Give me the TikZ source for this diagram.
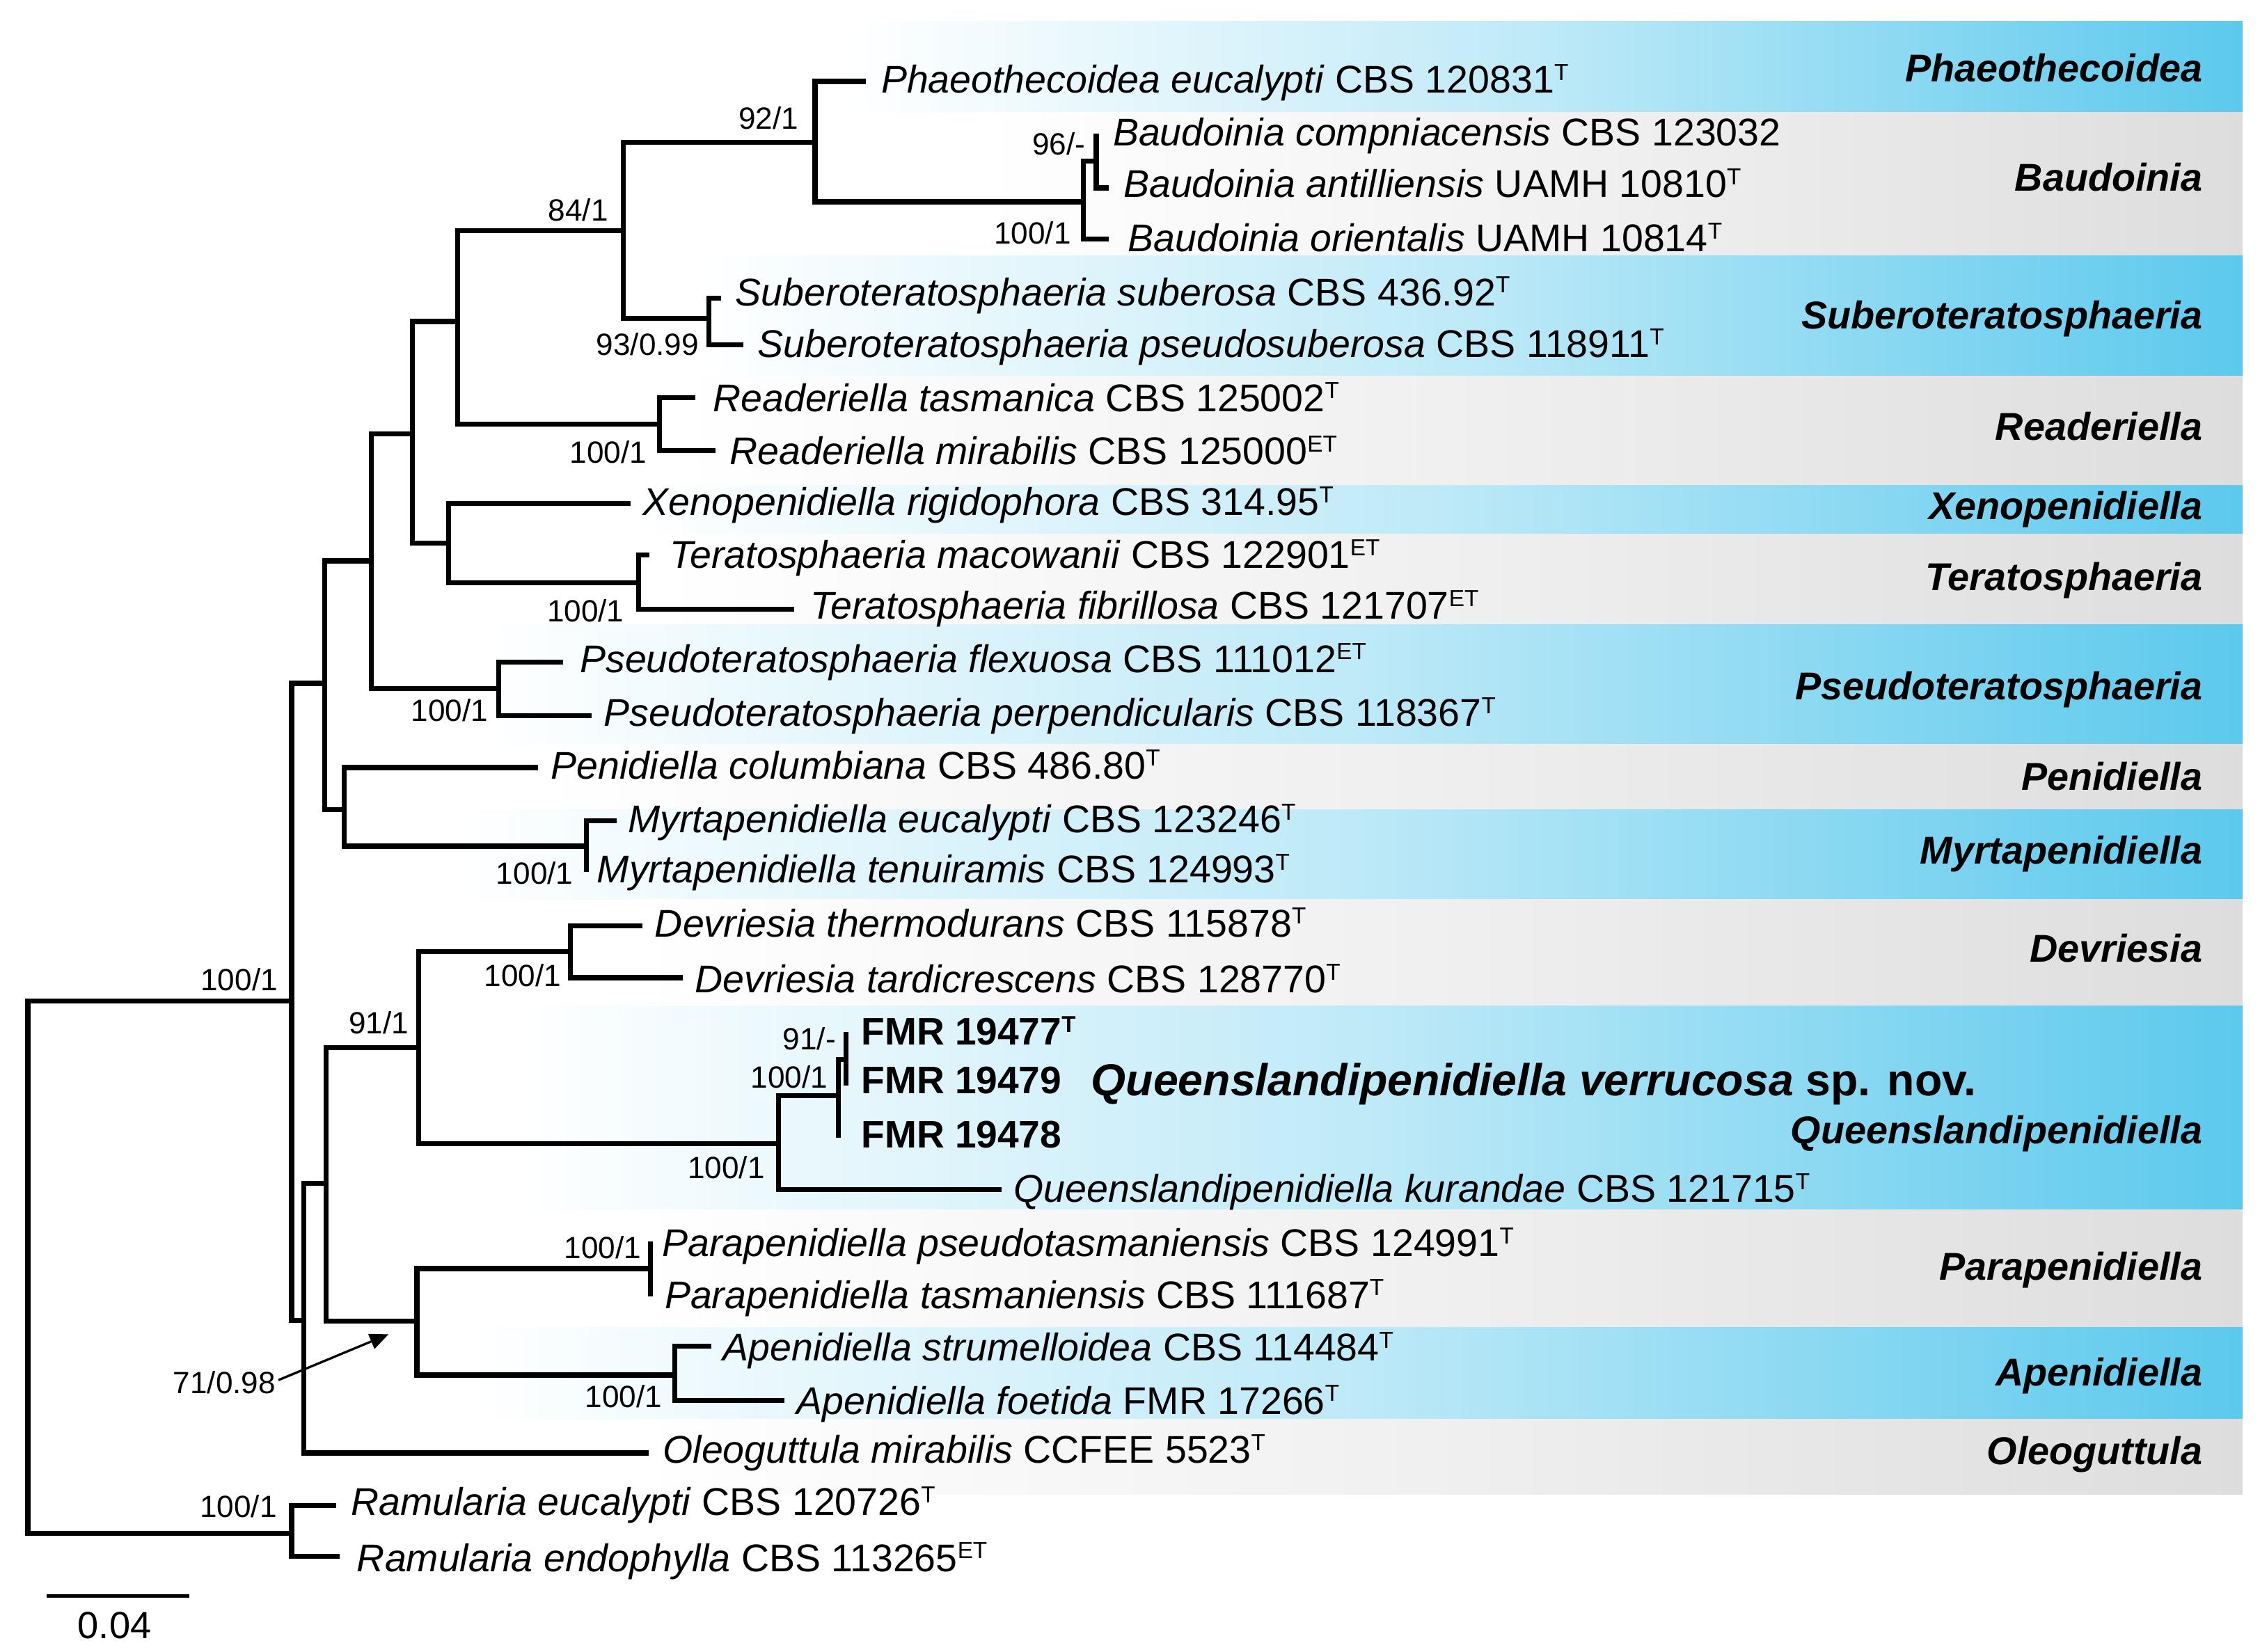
\documentclass[tikz,border=0pt]{standalone}
\usepackage{fontspec}
\setmainfont{Liberation Sans}
\usepackage{graphicx}
\usetikzlibrary{arrows.meta}
\definecolor{bandblue}{RGB}{92,201,237}
\definecolor{bandgray}{RGB}{221,221,221}
\newcommand{\sps}[1]{\raisebox{0.33em}{\scalebox{0.6}{#1}}}
\begin{document}
\begin{tikzpicture}[x=0.5pt,y=-0.5pt,
  branch/.style={line width=1.75pt, line join=miter},
  tax/.style={anchor=west, inner sep=0pt, font=\fontsize{13.4}{16}\selectfont, text height=9.5pt, text depth=0pt},
  bsl/.style={anchor=east, inner sep=0pt, font=\fontsize{10.65}{12}\selectfont, text height=7.6pt, text depth=0pt},
  clade/.style={anchor=east, inner sep=0pt, font=\fontsize{13.45}{16}\selectfont\bfseries\itshape, text height=9.6pt, text depth=0pt},
  bandB/.style={left color=white, right color=bandblue, middle color=bandblue!40!white},
  bandG/.style={left color=white, right color=bandgray, middle color=bandgray!45!white},
]
\useasboundingbox (0,0) rectangle (1568,1146);
\fill[white] (0,0) rectangle (1568,1146);

% ---------- coloured bands ----------
\shade[bandB] (590,14.5) rectangle (1556,78);
\shade[bandG] (680,78) rectangle (1556,177.5);
\shade[bandB] (488,177.5) rectangle (1556,261);
\shade[bandG] (467,261) rectangle (1556,337);
\shade[bandB] (443,337) rectangle (1556,370.7);
\shade[bandG] (455,370.7) rectangle (1556,433.5);
\shade[bandB] (335,433.5) rectangle (1556,516.3);
\shade[bandG] (370,516.3) rectangle (1556,561.8);
\shade[bandB] (318,561.8) rectangle (1556,624.3);
\shade[bandG] (440,624.3) rectangle (1556,697.8);
\shade[bandB] (360,697.8) rectangle (1556,839.6);
\shade[bandG] (440,839.6) rectangle (1556,920.9);
\shade[bandB] (330,920.9) rectangle (1556,984.7);
\shade[bandG] (440,984.7) rectangle (1556,1036.8);

% ---------- internal nodes ----------
\coordinate (root) at (19.3,879.5);
\coordinate (nA) at (202.3,694.8);
\coordinate (nRam) at (202.3,1064.2);
\coordinate (nB) at (225.3,474.2);
\coordinate (nC) at (257.5,389.2);
\coordinate (nD) at (286.3,301.2);
\coordinate (nE) at (317.5,223.1);
\coordinate (nG) at (432.5,160);
\coordinate (nH) at (565.5,98.7);
\coordinate (nBa) at (751.7,140);
\coordinate (nBa2) at (760.6,111.9);
\coordinate (nSu) at (492,221);
\coordinate (nRd) at (457.4,294.2);
\coordinate (nF) at (311.3,376.8);
\coordinate (nT) at (443,404.4);
\coordinate (nPs) at (346,477.7);
\coordinate (nPen) at (238.9,561.8);
\coordinate (nMy) at (407,587.2);
\coordinate (nO) at (210.9,916.4);
\coordinate (nI) at (226.3,821);
\coordinate (nJ) at (290.6,727);
\coordinate (nDv) at (395.9,660.5);
\coordinate (nQ) at (540,793.5);
\coordinate (nQ2) at (581.6,760.2);
\coordinate (nQ3) at (587.1,735.3);
\coordinate (nK) at (289.2,916.9);
\coordinate (nPa) at (451.3,880.3);
\coordinate (nAp) at (468,954.2);

% ---------- tip ends ----------
\coordinate (t1) at (600.8,56.5);
\coordinate (t2) at (760.6,92.6);
\coordinate (t3) at (769.4,130.4);
\coordinate (t4) at (769.4,165.8);
\coordinate (t5) at (500.4,207);
\coordinate (t6) at (515.7,239.3);
\coordinate (t7) at (482.4,275.9);
\coordinate (t8) at (496.2,312.6);
\coordinate (t9) at (437.5,349.5);
\coordinate (t10) at (450.7,385);
\coordinate (t11) at (551,422.7);
\coordinate (t12) at (390.9,459.4);
\coordinate (t13) at (410.3,496.7);
\coordinate (t14) at (373.1,532.6);
\coordinate (t15) at (427.8,569.4);
\coordinate (t16) at (407,604.9);
\coordinate (t17) at (445.8,642.4);
\coordinate (t18) at (473.5,678.5);
\coordinate (t19) at (587.1,715.9);
\coordinate (t20) at (587.1,753.3);
\coordinate (t21) at (581.6,789.4);
\coordinate (t22) at (695,825.4);
\coordinate (t23) at (451.3,861.4);
\coordinate (t24) at (451.3,899.7);
\coordinate (t25) at (493.4,934);
\coordinate (t26) at (544.2,971.8);
\coordinate (t27) at (449.9,1008.3);
\coordinate (t28) at (233,1044.6);
\coordinate (t29) at (235.5,1080);

% ---------- branches ----------
\draw[branch] (root) |- (nA);  \draw[branch] (root) |- (nRam);
\draw[branch] (nRam) |- (t28); \draw[branch] (nRam) |- (t29);
\draw[branch] (nA) |- (nB);    \draw[branch] (nA) |- (nO);
\draw[branch] (nB) |- (nC);    \draw[branch] (nB) |- (nPen);
\draw[branch] (nC) |- (nD);    \draw[branch] (nC) |- (nPs);
\draw[branch] (nD) |- (nE);    \draw[branch] (nD) |- (nF);
\draw[branch] (nE) |- (nG);    \draw[branch] (nE) |- (nRd);
\draw[branch] (nG) |- (nH);    \draw[branch] (nG) |- (nSu);
\draw[branch] (nH) |- (t1);    \draw[branch] (nH) |- (nBa);
\draw[branch] (nBa) |- (nBa2); \draw[branch] (nBa) |- (t4);
\draw[branch] (nBa2) |- (t2);  \draw[branch] (nBa2) |- (t3);
\draw[branch] (nSu) |- (t5);   \draw[branch] (nSu) |- (t6);
\draw[branch] (nRd) |- (t7);   \draw[branch] (nRd) |- (t8);
\draw[branch] (nF) |- (t9);    \draw[branch] (nF) |- (nT);
\draw[branch] (nT) |- (t10);   \draw[branch] (nT) |- (t11);
\draw[branch] (nPs) |- (t12);  \draw[branch] (nPs) |- (t13);
\draw[branch] (nPen) |- (t14); \draw[branch] (nPen) |- (nMy);
\draw[branch] (nMy) |- (t15);  \draw[branch] (nMy) |- (t16);
\draw[branch] (nO) |- (nI);    \draw[branch] (nO) |- (t27);
\draw[branch] (nI) |- (nJ);    \draw[branch] (nI) |- (nK);
\draw[branch] (nJ) |- (nDv);   \draw[branch] (nJ) |- (nQ);
\draw[branch] (nDv) |- (t17);  \draw[branch] (nDv) |- (t18);
\draw[branch] (nQ) |- (nQ2);   \draw[branch] (nQ) |- (t22);
\draw[branch] (nQ2) |- (nQ3);  \draw[branch] (nQ2) |- (t21);
\draw[branch] (nQ3) |- (t19);  \draw[branch] (nQ3) |- (t20);
\draw[branch] (nK) |- (nPa);   \draw[branch] (nK) |- (nAp);
\draw[branch] (nPa) |- (t23);  \draw[branch] (nPa) |- (t24);
\draw[branch] (nAp) |- (t25);  \draw[branch] (nAp) |- (t26);

% ---------- taxon names ----------
\node[tax] (x1) at (611,55) {\textit{Phaeothecoidea eucalypti} CBS 120831\sps{T}};
\node[tax] (x2) at (771.8,91.5) {\textit{Baudoinia compniacensis} CBS 123032};
\node[tax] (x3) at (779.1,127.5) {\textit{Baudoinia antilliensis} UAMH 10810\sps{T}};
\node[tax] (x4) at (782.3,165) {\textit{Baudoinia orientalis} UAMH 10814\sps{T}};
\node[tax] (x5) at (510,202.5) {\textit{Suberoteratosphaeria suberosa} CBS 436.92\sps{T}};
\node[tax] (x6) at (525.4,238.5) {\textit{Suberoteratosphaeria pseudosuberosa} CBS 118911\sps{T}};
\node[tax] (x7) at (494.3,276) {\textit{Readeriella tasmanica} CBS 125002\sps{T}};
\node[tax] (x8) at (506,313) {\textit{Readeriella mirabilis} CBS 125000\sps{ET}};
\node[tax] (x9) at (445.7,348) {\textit{Xenopenidiella rigidophora} CBS 314.95\sps{T}};
\node[tax] (x10) at (464.5,385) {\textit{Teratosphaeria macowanii} CBS 122901\sps{ET}};
\node[tax] (x11) at (562,420) {\textit{Teratosphaeria fibrillosa} CBS 121707\sps{ET}};
\node[tax] (x12) at (402,457) {\textit{Pseudoteratosphaeria flexuosa} CBS 111012\sps{ET}};
\node[tax] (x13) at (418.6,494.5) {\textit{Pseudoteratosphaeria perpendicularis} CBS 118367\sps{T}};
\node[tax] (x14) at (382,531) {\textit{Penidiella columbiana} CBS 486.80\sps{T}};
\node[tax] (x15) at (435.2,568.5) {\textit{Myrtapenidiella eucalypti} CBS 123246\sps{T}};
\node[tax] (x16) at (413.9,603) {\textit{Myrtapenidiella tenuiramis} CBS 124993\sps{T}};
\node[tax] (x17) at (454,640.5) {\textit{Devriesia thermodurans} CBS 115878\sps{T}};
\node[tax] (x18) at (481.8,679.5) {\textit{Devriesia tardicrescens} CBS 128770\sps{T}};
\node[tax,font=\fontsize{13.3}{16}\selectfont\bfseries] (x19) at (597.2,715.5) {FMR 19477\sps{T}};
\node[tax,font=\fontsize{13.3}{16}\selectfont\bfseries] (x20) at (597.2,749.3) {FMR 19479};
\node[tax,font=\fontsize{13.3}{16}\selectfont\bfseries] (x21) at (597.2,787.2) {FMR 19478};
\node[tax] (x22) at (703.1,824.8) {\textit{Queenslandipenidiella kurandae} CBS 121715\sps{T}};
\node[tax] (x23) at (459,862.5) {\textit{Parapenidiella pseudotasmaniensis} CBS 124991\sps{T}};
\node[tax] (x24) at (460.8,898.5) {\textit{Parapenidiella tasmaniensis} CBS 111687\sps{T}};
\node[tax] (x25) at (501.2,935) {\textit{Apenidiella strumelloidea} CBS 114484\sps{T}};
\node[tax] (x26) at (552.5,971.8) {\textit{Apenidiella foetida} FMR 17266\sps{T}};
\node[tax] (x27) at (459.6,1006) {\textit{Oleoguttula mirabilis} CCFEE 5523\sps{T}};
\node[tax] (x28) at (243.3,1042) {\textit{Ramularia eucalypti} CBS 120726\sps{T}};
\node[tax] (x29) at (247.3,1081) {\textit{Ramularia endophylla} CBS 113265\sps{ET}};

\node[anchor=west, inner sep=0pt, font=\fontsize{15.55}{18}\selectfont\bfseries, text height=11.1pt, text depth=0pt] (spnov) at (756.6,749.4) {\textit{Queenslandipenidiella verrucosa} sp. nov.};

% ---------- support values ----------
\node[bsl] (b1) at (193,679.7) {100/1};
\node[bsl] (b2) at (192.4,1045.3) {100/1};
\node[bsl] (b3) at (422.3,145.5) {84/1};
\node[bsl] (b4) at (554.4,81.9) {92/1};
\node[bsl] (b5) at (753.3,99.8) {96/-};
\node[bsl] (b6) at (743.4,161.8) {100/1};
\node[bsl] (b7) at (485.2,238.9) {93/0.99};
\node[bsl] (b8) at (449.1,313.6) {100/1};
\node[bsl] (b9) at (433.3,423.8) {100/1};
\node[bsl] (b10) at (339,492.8) {100/1};
\node[bsl] (b11) at (398,606) {100/1};
\node[bsl] (b12) at (389.7,677) {100/1};
\node[bsl] (b13) at (284,709.9) {91/1};
\node[bsl] (b14) at (580.3,721) {91/-};
\node[bsl] (b15) at (574.7,747.6) {100/1};
\node[bsl] (b16) at (531,810.1) {100/1};
\node[bsl] (b17) at (445.2,865.6) {100/1};
\node[bsl] (b18) at (459.6,969) {100/1};
\node[bsl] (b19) at (191.6,959.4) {71/0.98};
\coordinate (arrtip) at (269.6,925.9);
\draw[line width=0.8pt, -{Triangle[length=6.5pt,width=5.5pt]}] ([shift={(1.6,-1.7)}]b19.east) -- (arrtip);

% ---------- clade names ----------
\node[clade] (c1) at (1528.4,47.3) {Phaeothecoidea};
\node[clade] (c2) at (1528.4,123) {Baudoinia};
\node[clade] (c3) at (1528.4,218.8) {Suberoteratosphaeria};
\node[clade] (c4) at (1528.4,295.7) {Readeriella};
\node[clade] (c5) at (1528.4,351) {Xenopenidiella};
\node[clade] (c6) at (1528.4,400.3) {Teratosphaeria};
\node[clade] (c7) at (1528.4,476) {Pseudoteratosphaeria};
\node[clade] (c8) at (1528.4,538.5) {Penidiella};
\node[clade] (c9) at (1528.4,590) {Myrtapenidiella};
\node[clade] (c10) at (1528.4,657.8) {Devriesia};
\node[clade] (c11) at (1528.4,784.1) {Queenslandipenidiella};
\node[clade] (c12) at (1528.4,878.7) {Parapenidiella};
\node[clade] (c13) at (1528.4,951.9) {Apenidiella};
\node[clade] (c14) at (1528.4,1006.5) {Oleoguttula};

% ---------- scale bar ----------
\coordinate (sbL) at (32.2,1107.5);
\coordinate (sbR) at (131.5,1107.5);
\draw[line width=1.1pt] (sbL) -- (sbR);
\node[inner sep=0pt, font=\fontsize{13.1}{15}\selectfont, text height=9.4pt, text depth=0pt] (sblab) at (79.5,1127.5) {0.04};
\end{tikzpicture}
\end{document}
